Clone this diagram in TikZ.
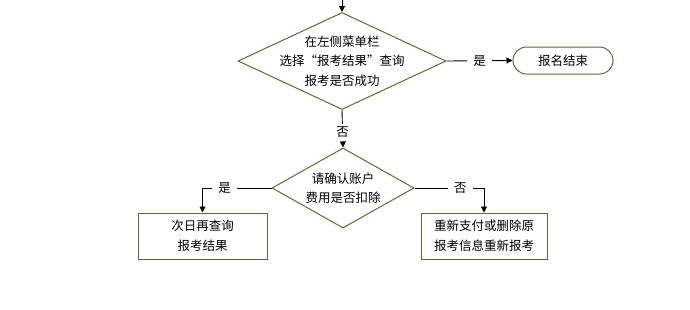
\documentclass[tikz,border=0pt]{standalone}
\usepackage{fontspec}
\setmainfont{Noto Sans CJK SC}
\usetikzlibrary{shapes.geometric,arrows.meta}
\definecolor{edgebrown}{RGB}{112,96,62}
\tikzset{
  every picture/.style={x=1pt,y=-1pt},
  conn/.style={draw=black,line width=0.9pt,-{Triangle[length=6pt,width=6pt]}},
  decision/.style={draw=edgebrown,line width=1pt,shape=diamond,inner sep=0pt},
  txt/.style={font=\fontsize{12.5}{19.5}\selectfont,align=center,inner sep=0pt},
  procbox/.style={draw=edgebrown,line width=1pt,minimum width=128pt,minimum height=46pt,inner sep=0pt,font=\fontsize{12.5}{20}\selectfont,align=center},
  termbox/.style={draw=edgebrown,line width=1pt,minimum width=100pt,minimum height=27pt,rounded corners=13.5pt,inner sep=0pt,font=\fontsize{12.5}{15}\selectfont},
  lbl/.style={fill=white,font=\fontsize{12.5}{15}\selectfont,inner xsep=6pt,inner ysep=3pt}
}
\begin{document}
\begin{tikzpicture}
\useasboundingbox (0,0) rectangle (690,309);
\coordinate (top) at (342,0);
\node[decision,minimum width=208pt,minimum height=97pt] (d1) at (342,61) {};
\node[txt] (d1t) at (d1) {在左侧菜单栏\\选择“报考结果”查询\\报考是否成功};
\node[termbox] (end) at (563,60.5) {报名结束};
\node[decision,minimum width=142pt,minimum height=80pt] (d2) at (343,188) {};
\node[txt] (d2t) at (d2) {请确认账户\\费用是否扣除};
\node[procbox,minimum width=129pt] (b1) at (202.5,236) {次日再查询\\报考结果};
\node[procbox,minimum width=126pt] (b2) at (484,236) {重新支付或删除原\\报考信息重新报考};

\draw[conn] (top) -- (d1.north);
\draw[conn] (d1.east) -- node[lbl]{是} (end.west);
\draw[conn] (d1.south) -- node[lbl,pos=0.6]{否} (d2.north);
\draw[conn] (d2.west) -| node[lbl,pos=0.34]{是} (b1.north);
\draw[conn] (d2.east) -| node[lbl,pos=0.33]{否} (b2.north);
\end{tikzpicture}
\end{document}
